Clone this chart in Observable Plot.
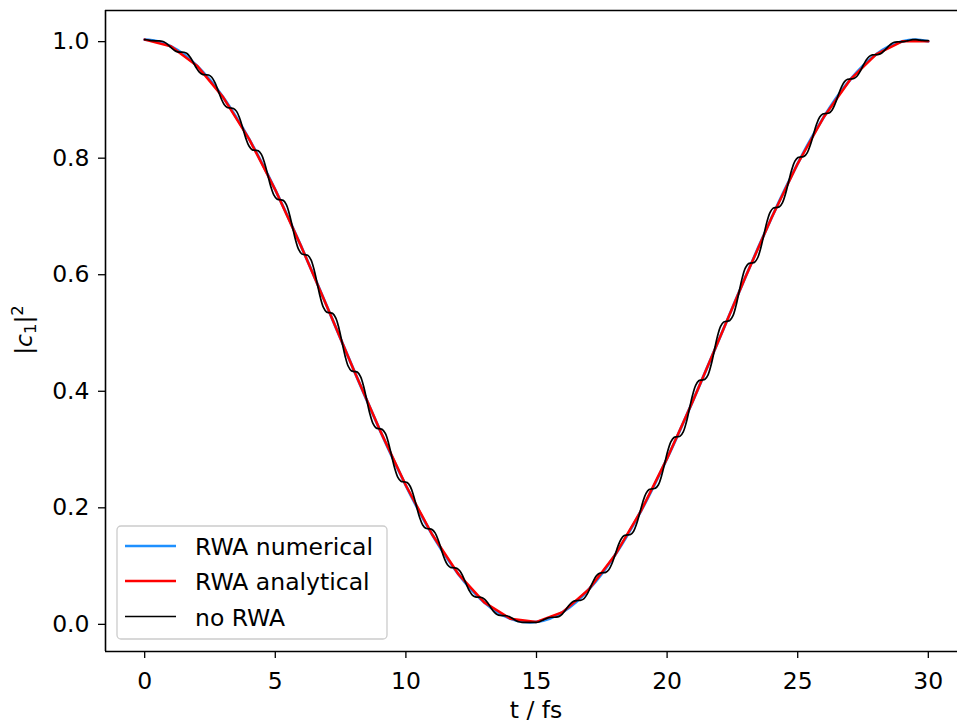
<!DOCTYPE html>
<html><head><meta charset="utf-8">
<script src="https://cdn.jsdelivr.net/npm/d3@7"></script>
<script src="https://cdn.jsdelivr.net/npm/@observablehq/plot@0.6"></script>
<style>
html,body{margin:0;padding:0;background:#fff;overflow:hidden;}
#chart svg{overflow:hidden;display:block;}
</style></head><body><div id="chart"></div>
<script>
const xTicks = [0, 5, 10, 15, 20, 25, 30];
const yTicks = [0, 0.2, 0.4, 0.6, 0.8, 1.0];
const seriesNames = ["RWA numerical", "RWA analytical", "no RWA"];
const seriesColors = ["#1e90ff", "#ff0000", "#000000"];

// RWA numerical
const numT = [0,0.5,1,1.5,2,2.5,3,3.5,4,4.5,5,5.5,6,6.5,7,7.5,8,8.5,9,9.5,10,10.5,11,11.5,12,12.5,13,13.5,14,14.5,
  15,15.5,16,16.5,17,17.5,18,18.5,19,19.5,20,20.5,21,21.5,22,22.5,23,23.5,24,24.5,25,25.5,26,26.5,27,27.5,28,28.5,29,29.5,30];
const numY = [1.0,0.99717,0.98870,0.97470,0.95532,0.93077,0.90136,0.86722,0.82925,0.78740,0.74226,0.69441,0.64435,0.59264,0.53990,
  0.48669,0.43364,0.38133,0.33037,0.28136,0.23481,0.19117,0.15125,0.11515,0.08332,0.05635,0.03432,0.01761,0.00636,0.00071,
  0.00071,0.00636,0.01761,0.03432,0.05635,0.08332,0.11515,0.15125,0.19117,0.23481,0.28136,0.33037,0.38133,0.43364,0.48669,
  0.53990,0.59264,0.64435,0.69441,0.74226,0.78740,0.82925,0.86722,0.90136,0.93077,0.95532,0.97470,0.98870,0.99717,1.0,0.99717];

// RWA analytical
const anaT = [0,1,2,3,4,5,6,7,8,9,10,11,12,13,14,15,16,17,18,19,20,21,22,23,24,25,26,27,28,29,30];
const anaY = [1.0,0.98870,0.95532,0.90136,0.82925,0.74226,0.64435,0.53990,0.43364,0.33037,0.23481,0.15125,0.08332,0.03432,0.00636,
  0.00071,0.01761,0.05635,0.11515,0.19117,0.28136,0.38133,0.48669,0.59264,0.69441,0.78740,0.86722,0.93077,0.97470,0.99717,0.99717];

// no RWA
const fullT = [0,0.074,0.193,0.311,0.430,0.549,0.668,0.786,0.905,1.024,1.143,1.261,1.380,1.499,1.618,1.736,1.855,1.974,2.093,2.211,
  2.330,2.449,2.568,2.686,2.805,2.924,3.043,3.161,3.280,3.399,3.518,3.636,3.755,3.874,3.993,4.111,4.230,4.349,4.468,4.586,
  4.705,4.824,4.943,5.061,5.180,5.299,5.418,5.536,5.655,5.774,5.893,6.011,6.130,6.249,6.368,6.486,6.605,6.724,6.843,6.961,
  7.080,7.199,7.318,7.436,7.555,7.674,7.793,7.911,8.030,8.149,8.268,8.386,8.505,8.624,8.743,8.861,8.980,9.099,9.218,9.336,
  9.455,9.574,9.693,9.811,9.930,10.049,10.168,10.286,10.405,10.524,10.643,10.761,10.880,10.999,11.118,11.236,11.355,11.474,11.593,11.711,
  11.830,11.949,12.068,12.186,12.305,12.424,12.543,12.661,12.780,12.899,13.018,13.136,13.255,13.374,13.493,13.611,13.730,13.849,13.968,14.086,
  14.205,14.324,14.443,14.561,14.680,14.799,14.918,15.036,15.155,15.274,15.393,15.511,15.630,15.749,15.868,15.986,16.105,16.224,16.343,16.461,
  16.580,16.699,16.818,16.936,17.055,17.174,17.293,17.411,17.530,17.649,17.768,17.886,18.005,18.124,18.243,18.361,18.480,18.599,18.718,18.836,
  18.955,19.074,19.193,19.311,19.430,19.549,19.668,19.786,19.905,20.024,20.143,20.261,20.380,20.499,20.618,20.736,20.855,20.974,21.093,21.211,
  21.330,21.449,21.568,21.686,21.805,21.924,22.043,22.161,22.280,22.399,22.518,22.636,22.755,22.874,22.993,23.111,23.230,23.349,23.468,23.586,
  23.705,23.824,23.943,24.061,24.180,24.299,24.418,24.536,24.655,24.774,24.893,25.011,25.130,25.249,25.368,25.486,25.605,25.724,25.843,25.961,
  26.080,26.199,26.318,26.436,26.555,26.674,26.793,26.911,27.030,27.149,27.268,27.386,27.505,27.624,27.743,27.861,27.980,28.099,28.218,28.336,
  28.455,28.574,28.693,28.811,28.930,29.049,29.168,29.286,29.405,29.524,29.643,29.761,29.880,30.000];
const fullY = [1.0000,0.9998,0.9989,0.9982,0.9979,0.9979,0.9972,0.9949,0.9907,0.9857,0.9814,0.9790,0.9786,0.9783,0.9761,0.9703,0.9615,0.9518,0.9442,0.9404,
  0.9397,0.9392,0.9354,0.9265,0.9133,0.8994,0.8888,0.8837,0.8827,0.8820,0.8769,0.8651,0.8482,0.8306,0.8174,0.8112,0.8101,0.8092,0.8030,0.7889,
  0.7692,0.7485,0.7336,0.7265,0.7253,0.7243,0.7172,0.7013,0.6791,0.6565,0.6399,0.6323,0.6310,0.6298,0.6222,0.6052,0.5816,0.5578,0.5406,0.5326,
  0.5314,0.5301,0.5222,0.5048,0.4808,0.4568,0.4395,0.4317,0.4304,0.4292,0.4213,0.4042,0.3808,0.3576,0.3410,0.3335,0.3324,0.3311,0.3237,0.3075,
  0.2856,0.2641,0.2489,0.2421,0.2411,0.2400,0.2331,0.2187,0.1992,0.1803,0.1671,0.1613,0.1605,0.1595,0.1536,0.1414,0.1252,0.1096,0.0989,0.0943,
  0.0937,0.0928,0.0882,0.0786,0.0663,0.0547,0.0469,0.0438,0.0433,0.0427,0.0394,0.0331,0.0251,0.0180,0.0136,0.0119,0.0117,0.0113,0.0096,0.0066,
  0.0034,0.0010,0.0001,0.0000,0.0001,0.0000,0.0000,0.0002,0.0019,0.0044,0.0069,0.0084,0.0088,0.0089,0.0103,0.0143,0.0207,0.0280,0.0339,0.0369,
  0.0375,0.0379,0.0408,0.0481,0.0591,0.0708,0.0799,0.0844,0.0852,0.0858,0.0902,0.1006,0.1156,0.1314,0.1432,0.1490,0.1500,0.1509,0.1565,0.1695,
  0.1880,0.2071,0.2213,0.2280,0.2291,0.2301,0.2362,0.2512,0.2724,0.2939,0.3098,0.3173,0.3185,0.3196,0.3270,0.3434,0.3665,0.3897,0.4067,0.4146,
  0.4158,0.4171,0.4249,0.4421,0.4660,0.4900,0.5074,0.5153,0.5166,0.5179,0.5258,0.5431,0.5670,0.5907,0.6078,0.6155,0.6167,0.6179,0.6257,0.6424,
  0.6652,0.6877,0.7037,0.7109,0.7120,0.7132,0.7204,0.7359,0.7567,0.7770,0.7914,0.7977,0.7987,0.7998,0.8062,0.8196,0.8377,0.8551,0.8672,0.8724,
  0.8732,0.8741,0.8794,0.8904,0.9049,0.9186,0.9280,0.9319,0.9324,0.9332,0.9372,0.9453,0.9556,0.9651,0.9713,0.9738,0.9741,0.9746,0.9772,0.9820,
  0.9877,0.9926,0.9954,0.9963,0.9963,0.9966,0.9976,0.9990,0.9999,1.0000,0.9993,0.9986,0.9984,0.9984];

const toRows = (T, Y) => T.map((t, i) => ({t, p: Y[i]}));
const FONT = "'DejaVu Sans', sans-serif";
const FS = 23.5;

const svg = Plot.plot({
  width: 957, height: 727,
  marginLeft: 105, marginRight: -10, marginTop: 10, marginBottom: 76,
  style: {fontFamily: FONT, fontSize: FS + "px", background: "#fff", color: "#000", overflow: "hidden"},
  x: {domain: [-1.5, 31.5]},
  y: {domain: [-0.05, 1.05]},
  marks: [
    Plot.line(toRows(numT, numY), {x: "t", y: "p", stroke: seriesColors[0], strokeWidth: 2.8, curve: "catmull-rom"}),
    Plot.line(toRows(anaT, anaY), {x: "t", y: "p", stroke: seriesColors[1], strokeWidth: 2.5}),
    Plot.line(toRows(fullT, fullY), {x: "t", y: "p", stroke: seriesColors[2], strokeWidth: 1.7, curve: "catmull-rom"}),
    Plot.ruleY([-0.05], {stroke: "#000", strokeWidth: 1.6}),
    Plot.ruleY([1.05], {stroke: "#000", strokeWidth: 1.6}),
    Plot.ruleX([-1.5], {stroke: "#000", strokeWidth: 1.6}),
    Plot.axisX({ticks: xTicks, tickFormat: d => String(d), tickSize: 7, tickPadding: 14, strokeWidth: 1.3, label: null}),
    Plot.axisY({ticks: yTicks, tickFormat: d3.format(".1f"), tickSize: 7, tickPadding: 9, dy: 2, strokeWidth: 1.3, label: null})
  ]
});
document.getElementById("chart").appendChild(svg);

const s = d3.select(svg);
// x label
s.append("text").attr("x", 536).attr("y", 718).attr("text-anchor", "middle")
  .attr("font-family", FONT).attr("font-size", FS).attr("fill", "#000").text("t / fs");
// y label |c_1|^2
const yl = s.append("text").attr("transform", "translate(32,330) rotate(-90)").attr("text-anchor", "middle")
  .attr("font-family", FONT).attr("font-size", FS).attr("fill", "#000");
yl.append("tspan").text("|");
yl.append("tspan").attr("font-style", "italic").text("c");
yl.append("tspan").attr("font-size", FS * 0.7).attr("dy", 4).text("1");
yl.append("tspan").attr("dy", -4).text("|");
yl.append("tspan").attr("font-size", FS * 0.7).attr("dy", -9).text("2");

// legend
const lg = s.append("g").attr("text-anchor", "start");
lg.append("rect").attr("x", 117).attr("y", 526).attr("width", 270).attr("height", 113).attr("rx", 4)
  .attr("fill", "#fff").attr("fill-opacity", 0.8).attr("stroke", "#cccccc").attr("stroke-width", 1.3);
const lineYs = [546, 581, 616.5];
const widths = [2.5, 2.5, 1.6];
seriesNames.forEach((name, i) => {
  lg.append("line").attr("x1", 125).attr("x2", 176).attr("y1", lineYs[i]).attr("y2", lineYs[i])
    .attr("stroke", seriesColors[i]).attr("stroke-width", widths[i]);
  lg.append("text").attr("x", 195).attr("y", lineYs[i] + 9).attr("text-anchor", "start")
    .attr("font-family", FONT).attr("font-size", FS).attr("fill", "#000").text(name);
});
</script>
</body></html>
